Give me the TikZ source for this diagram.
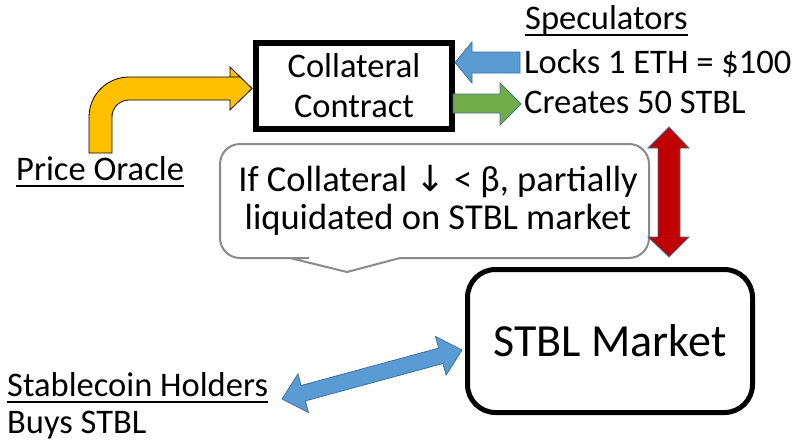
\documentclass[tikz,border=0pt]{standalone}
\usepackage{fontspec}
\setmainfont{Carlito}
\newfontfamily\symfont{DejaVu Sans}
\definecolor{oblue}{HTML}{5B9BD5}
\definecolor{ogreen}{HTML}{70AD47}
\definecolor{ored}{HTML}{C00000}
\definecolor{oyellow}{HTML}{FFC000}
\definecolor{oedge}{HTML}{41719C}
\definecolor{cgray}{HTML}{8A8A8A}
\begin{document}
\begin{tikzpicture}[x=1pt,y=-1pt,
  txt/.style={inner sep=0pt, font=\fontsize{34.5}{40}\selectfont},
  uline/.style={line width=1.8pt},
  boxthick/.style={draw=black, line width=6pt, inner sep=0pt, align=center,
    font=\fontsize{34.5}{40}\selectfont},
  blockarrow/.style={draw=oedge, line width=0.8pt, line join=miter},
  callout/.style={draw=cgray, line width=2pt, fill=white}]
\useasboundingbox (0,0) rectangle (794,442);

% --- contract box
\node[boxthick, minimum width=196pt, minimum height=86pt] (contract) at (354,86)
  {Collateral\\Contract};

% --- speculators side
\node[txt, anchor=base west] (spec) at (525,29) {Speculators};
\draw[uline] ([yshift=-6pt]spec.base west) -- ([yshift=-6pt]spec.base east);
\node[txt, anchor=base west] (locks) at (524,73) {Locks 1 ETH = \$100};
\node[txt, anchor=base west] (creates) at (524,113) {Creates 50 STBL};

% blue arrow into the contract
\filldraw[blockarrow, fill=oblue] (520,52) -- (472,52) -- (472,42) -- (455,62.5)
  -- (472,83) -- (472,73) -- (520,73) -- cycle;
% green arrow out of the contract
\filldraw[blockarrow, fill=ogreen] (453,94) -- (500,94) -- (500,83) -- (521,104)
  -- (500,125) -- (500,113) -- (453,113) -- cycle;

% --- price oracle
\node[txt, anchor=base west] (oracle) at (16,180) {Price Oracle};
\draw[uline] ([yshift=-6pt]oracle.base west) -- ([yshift=-6pt]oracle.base east);
\filldraw[draw=black, line width=0.8pt, fill=oyellow, line join=miter]
  (89,153) -- (89,140) [rounded corners=40pt] -- (89,77) -- (200,77)
  [sharp corners] -- (230,77) -- (230,67) -- (252,88.5) -- (230,110) -- (230,100)
  -- (200,100) [rounded corners=17pt] -- (112,100) -- (112,130)
  [sharp corners] -- (112,153) -- cycle;

% --- liquidation callout
\filldraw[callout] (347,272) -- (400,258) -- (401,258) [rounded corners=20pt]
  -- (649,258) -- (649,144) -- (220,144) -- (220,258) -- (289,258)
  [sharp corners] -- (290,258) -- cycle;
\node[txt, align=center, font=\fontsize{36.5}{38}\selectfont] (liq) at (438,200)
  {If Collateral {\symfont\fontsize{36}{38}\selectfont ↓} < β, partially\\liquidated on STBL market};

% red double arrow between creation and market
\filldraw[blockarrow, fill=ored] (669,127) -- (689,148) -- (680,148) -- (680,237)
  -- (689,237) -- (669,257) -- (648,237) -- (658,237) -- (658,148) -- (648,148) -- cycle;

% --- market
\node[draw=black, line width=5pt, rounded corners=28pt, minimum width=285pt,
  minimum height=143pt, inner sep=0pt, font=\fontsize{46}{50}\selectfont]
  (market) at (610,341) {STBL Market};

% --- stablecoin holders
\node[txt, anchor=base west] (holders) at (7,396) {Stablecoin Holders};
\draw[uline] ([yshift=-6pt]holders.base west) -- ([yshift=-6pt]holders.base east);
\node[txt, anchor=base west] (buys) at (7,433) {Buys STBL};

% blue double arrow between holders and market
\filldraw[blockarrow, fill=oblue] (282,399) -- (298.0,373.9) -- (301.1,385.5)
  -- (438.7,348.1) -- (435.5,336.5) -- (462,350) -- (446.1,375.1) -- (442.9,363.5)
  -- (305.3,400.9) -- (308.5,412.5) -- cycle;
\end{tikzpicture}
\end{document}
